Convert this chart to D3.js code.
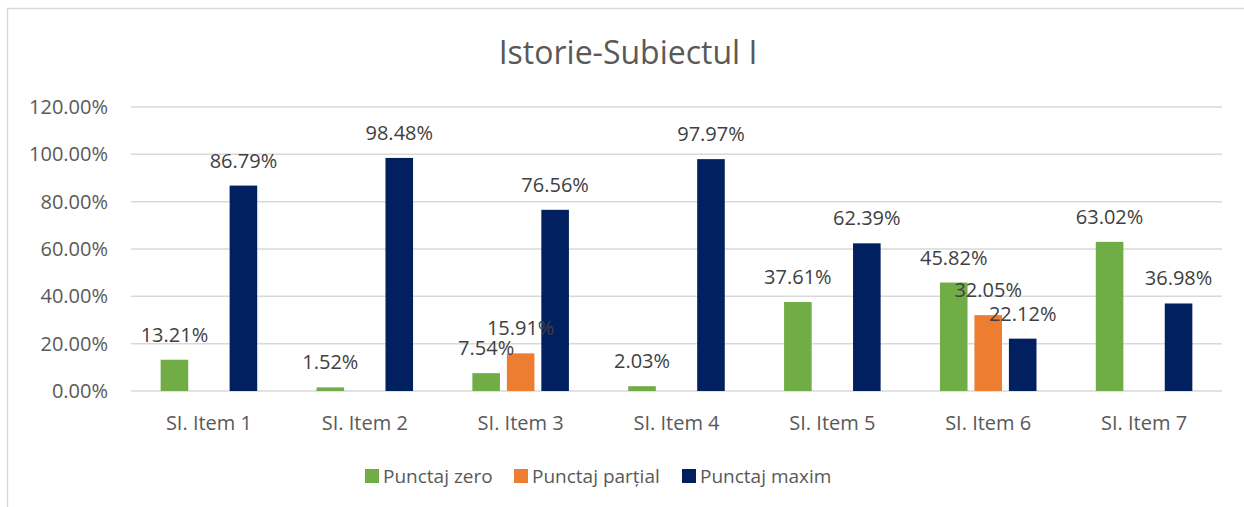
<!DOCTYPE html>
<html>
<head>
<meta charset="utf-8">
<script src="https://cdn.jsdelivr.net/npm/d3@7"></script>
<style>
  body { margin: 0; background: #fff; }
  text { font-family: "Open Sans", sans-serif; }
</style>
</head>
<body>
<div id="chart"></div>
<script>
// data
const categories = ["SI. Item 1", "SI. Item 2", "SI. Item 3", "SI. Item 4", "SI. Item 5", "SI. Item 6", "SI. Item 7"];
const seriesNames = ["Punctaj zero", "Punctaj parțial", "Punctaj maxim"];
const zero    = [13.21, 1.52, 7.54, 2.03, 37.61, 45.82, 63.02];
const partial = [0, 0, 15.91, 0, 0, 32.05, 0];
const maxim   = [86.79, 98.48, 76.56, 97.97, 62.39, 22.12, 36.98];
const yTicks  = [0, 20, 40, 60, 80, 100, 120];
const colors  = ["#70ad47", "#ed7d31", "#002060"];

const W = 1244, H = 507;
var margin = {top: 107, right: 22, bottom: 116, left: 131};

var svg = d3.select("#chart").append("svg")
  .attr("width", W).attr("height", H);

// chart frame
svg.append("path")
  .attr("d", "M7.5," + H + " V8.5 H" + W)
  .attr("fill", "none").attr("stroke", "#d9d9d9").attr("stroke-width", 1.5);

svg.append("text")
  .attr("x", 628).attr("y", 64)
  .attr("text-anchor", "middle")
  .attr("font-size", 32)
  .attr("fill", "#595959")
  .text("Istorie-Subiectul I");

var x = d3.scaleBand().domain(categories)
  .range([margin.left, W - margin.right]);
var xs = d3.scaleBand().domain(d3.range(3))
  .range([0, x.bandwidth()]).paddingInner(0.2).paddingOuter(0.86);
var y = d3.scaleLinear().domain([0, 120])
  .range([H - margin.bottom, margin.top]);

// gridlines
svg.append("g").selectAll("line").data(yTicks).enter().append("line")
  .attr("x1", margin.left).attr("x2", W - margin.right)
  .attr("y1", d => y(d)).attr("y2", d => y(d))
  .attr("stroke", "#d9d9d9").attr("stroke-width", 1.5);

// y labels
svg.append("g").selectAll("text").data(yTicks).enter().append("text")
  .attr("x", 108).attr("y", d => y(d) + 7)
  .attr("text-anchor", "end")
  .attr("font-size", 20).attr("fill", "#595959")
  .text(d => d.toFixed(2) + "%");

// x labels
svg.append("g").selectAll("text").data(categories).enter().append("text")
  .attr("x", d => x(d) + x.bandwidth() / 2).attr("y", 430)
  .attr("text-anchor", "middle")
  .attr("font-size", 20).attr("fill", "#595959")
  .text(d => d);

var series = [zero, partial, maxim];
var rows = [];
series.forEach(function(vals, s) {
  vals.forEach(function(v, i) { rows.push({cat: categories[i], s: s, v: v}); });
});

svg.append("g").selectAll("rect").data(rows.filter(d => d.v > 0)).enter().append("rect")
  .attr("x", d => x(d.cat) + xs(d.s))
  .attr("width", xs.bandwidth())
  .attr("y", d => y(d.v))
  .attr("height", d => y(0) - y(d.v))
  .attr("fill", d => colors[d.s]);

svg.append("g").selectAll("text").data(rows.filter(d => d.v > 0)).enter().append("text")
  .attr("x", d => x(d.cat) + xs(d.s) + xs.bandwidth() / 2)
  .attr("y", d => y(d.v) - 18)
  .attr("text-anchor", "middle")
  .attr("font-size", 20).attr("fill", "#404040")
  .text(d => d.v.toFixed(2) + "%");

// legend
var legX = [365, 514, 682];
var leg = svg.append("g").selectAll("g").data(seriesNames).enter().append("g")
  .attr("transform", (d, i) => "translate(" + legX[i] + ",469)");
leg.append("rect").attr("width", 14).attr("height", 14)
  .attr("fill", (d, i) => colors[i]);
leg.append("text").attr("x", 18).attr("y", 14)
  .attr("font-size", 19).attr("fill", "#595959")
  .text(d => d);
</script>
</body>
</html>
